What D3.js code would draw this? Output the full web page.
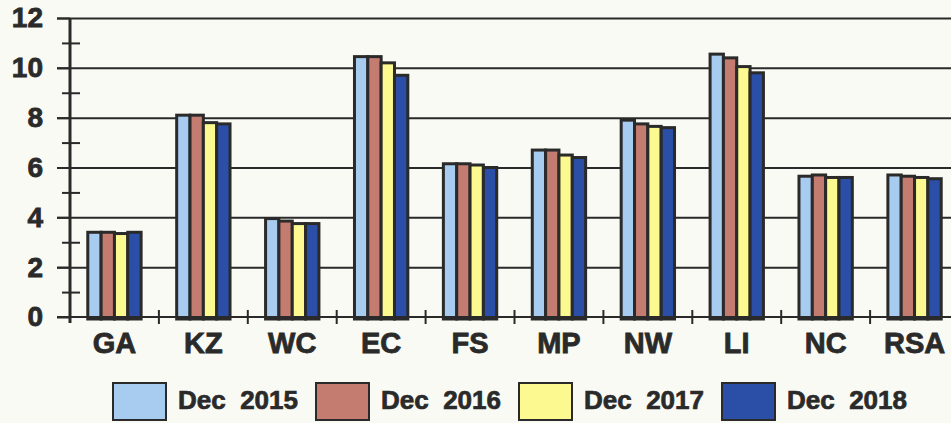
<!DOCTYPE html>
<html>
<head>
<meta charset="utf-8">
<script src="https://cdn.jsdelivr.net/npm/d3@7"></script>
<style>
  html, body { margin: 0; padding: 0; background: #f9faf3; }
  svg { display: block; }
  svg text { font-family: "Liberation Sans", Arial, sans-serif; font-weight: 700; }
</style>
</head>
<body>
<svg id="chart" width="951" height="423"></svg>
<script>
// regions on the x axis
var regions = ["GA", "KZ", "WC", "EC", "FS", "MP", "NW", "LI", "NC", "RSA"];
var series = ["Dec 2015", "Dec 2016", "Dec 2017", "Dec 2018"];
var colours = ["#a8ccef", "#c47b70", "#fbf98f", "#2b4ea7"];

// one value per region
var dec2015 = [3.4, 8.1, 3.95, 10.45, 6.15, 6.7, 7.9, 10.55, 5.65, 5.7];
var dec2016 = [3.4, 8.1, 3.85, 10.45, 6.15, 6.7, 7.75, 10.4, 5.7, 5.65];
var dec2017 = [3.35, 7.8, 3.75, 10.2, 6.1, 6.5, 7.65, 10.05, 5.6, 5.6];
var dec2018 = [3.4, 7.75, 3.75, 9.7, 6.0, 6.4, 7.6, 9.8, 5.6, 5.55];

var yMajor = [0, 2, 4, 6, 8, 10, 12];
var yMinor = [1, 3, 5, 7, 9, 11];

chart();

function chart() {
    var svg = d3.select("#chart"),
        ink = "#2a2a2a",
        font = "'Liberation Sans', Arial, sans-serif";

    var values = [dec2015, dec2016, dec2017, dec2018];
    var data = regions.map((r, i) => ({
        region: r,
        vals: series.map((s, j) => ({key: s, value: values[j][i], col: colours[j]}))
    }));

    // x scale for the region groups, the last band runs off the picture like the scan
    var x0 = d3.scaleBand()
        .domain(regions)
        .range([70, 959])
        .padding(0);

    var x1 = d3.scaleBand()
        .domain(series)
        .range([x0.bandwidth() * 0.2, x0.bandwidth() * 0.8])
        .padding(0);

    var y = d3.scaleLinear()
        .domain([0, 12])
        .range([317, 18]);

    // gridlines
    svg.append("g")
        .attr("transform", "translate(57,0)")
        .call(d3.axisLeft(y).tickValues(yMajor.slice(1)).tickSize(-(951 - 57)).tickFormat(""))
        .call(g => g.select(".domain").remove())
        .call(g => g.selectAll("line").attr("stroke", ink).attr("stroke-width", 2));

    // bars
    var groups = svg.append("g").selectAll("g.region")
        .data(data)
        .enter().append("g")
        .attr("class", "region")
        .attr("transform", d => `translate(${x0(d.region)},0)`);

    groups.selectAll("rect")
        .data(d => d.vals)
        .enter().append("rect")
        .attr("x", d => x1(d.key))
        .attr("width", x1.bandwidth())
        .attr("y", d => y(d.value))
        .attr("height", d => y(0) - y(d.value) + 2)
        .attr("fill", d => d.col)
        .attr("stroke", ink)
        .attr("stroke-width", 3);

    // y axis with labels
    var yAxis = svg.append("g")
        .attr("transform", "translate(70,0)")
        .call(d3.axisLeft(y).tickValues(yMajor).tickSize(13).tickPadding(14))
        .attr("font-family", font).attr("font-weight", 700).attr("font-size", 28);
    yAxis.select(".domain").remove();
    yAxis.selectAll("line").attr("stroke", ink).attr("stroke-width", 2);
    yAxis.selectAll("text").attr("fill", ink).attr("stroke", ink).attr("stroke-width", 0.8);

    svg.append("line")
        .attr("x1", 70).attr("x2", 70)
        .attr("y1", y(12)).attr("y2", y(0) + 6)
        .attr("stroke", ink).attr("stroke-width", 3);

    // minor ticks crossing the axis
    svg.append("g")
        .attr("transform", "translate(62,0)")
        .call(d3.axisRight(y).tickValues(yMinor).tickSize(18).tickFormat(""))
        .call(g => g.select(".domain").remove())
        .call(g => g.selectAll("line").attr("stroke", ink).attr("stroke-width", 2));

    // x axis
    svg.append("line")
        .attr("x1", 57).attr("x2", 951)
        .attr("y1", y(0)).attr("y2", y(0))
        .attr("stroke", ink).attr("stroke-width", 2);

    svg.append("g").selectAll("line.sep")
        .data(regions.slice(1))
        .enter().append("line")
        .attr("class", "sep")
        .attr("x1", d => x0(d)).attr("x2", d => x0(d))
        .attr("y1", y(0) - 7).attr("y2", y(0) + 7)
        .attr("stroke", ink).attr("stroke-width", 2);

    var xAxis = svg.append("g")
        .attr("transform", `translate(0,${y(0)})`)
        .call(d3.axisBottom(x0).tickSize(0).tickPadding(15))
        .attr("font-family", font).attr("font-weight", 700).attr("font-size", 29);
    xAxis.select(".domain").remove();
    xAxis.selectAll("text").attr("fill", ink).attr("stroke", ink).attr("stroke-width", 0.8);

    // legend
    var legend = svg.append("g").selectAll("g.item")
        .data(series)
        .enter().append("g")
        .attr("class", "item")
        .attr("transform", (d, i) => `translate(${113 + i * 203},0)`);

    legend.append("rect")
        .attr("x", 0).attr("y", 383)
        .attr("width", 53).attr("height", 37)
        .attr("fill", (d, i) => colours[i])
        .attr("stroke", ink).attr("stroke-width", 2);

    legend.append("text")
        .attr("x", 65).attr("y", 409)
        .attr("fill", ink)
        .attr("stroke", ink).attr("stroke-width", 0.7)
        .attr("font-family", font).attr("font-weight", 700).attr("font-size", 26)
        .text(d => d.replace(" ", "\u00a0 "));
}
</script>
</body>
</html>
